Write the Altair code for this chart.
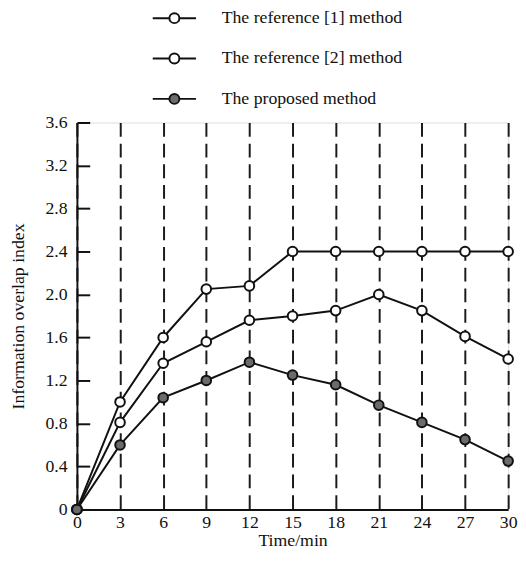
import altair as alt
import pandas as pd

time_min = [0, 3, 6, 9, 12, 15, 18, 21, 24, 27, 30]
ref1 = [0, 1.00, 1.60, 2.05, 2.08, 2.40, 2.40, 2.40, 2.40, 2.40, 2.40]
ref2 = [0, 0.81, 1.36, 1.56, 1.76, 1.80, 1.85, 2.00, 1.85, 1.61, 1.40]
proposed = [0, 0.60, 1.04, 1.20, 1.37, 1.25, 1.16, 0.97, 0.81, 0.65, 0.45]
series_names = ["The reference [1] method", "The reference [2] method", "The proposed method"]
series_fills = ["#ffffff", "#ffffff", "#6b6b6b"]
x_ticks = [0, 3, 6, 9, 12, 15, 18, 21, 24, 27, 30]
y_ticks = [0, 0.4, 0.8, 1.2, 1.6, 2.0, 2.4, 2.8, 3.2, 3.6]

rows = []
for name, vals in zip(series_names, [ref1, ref2, proposed]):
    for t, v in zip(time_min, vals):
        rows.append({"Time": t, "Value": v, "Series": name})
df = pd.DataFrame(rows)

FONT = "Liberation Serif"
FS = 18

x_scale = alt.Scale(domain=[0, 30], nice=False, zero=False)
y_scale = alt.Scale(domain=[0, 3.6], nice=False)

legend_path = ("M-1,0 L-0.23,0 M0.23,0 L1,0 "
               "M-0.23,0 A0.23,0.23 0 1,0 0.23,0 A0.23,0.23 0 1,0 -0.23,0 Z")

base = alt.Chart(df)

lines = base.mark_line(color="#111111", strokeWidth=2).encode(
    x=alt.X("Time:Q", scale=x_scale,
            axis=alt.Axis(values=x_ticks, title="Time/min", grid=True,
                          gridDash=[14, 7], gridColor="#1a1a1a", gridWidth=2, gridOpacity=1,
                          ticks=False, tickSize=0, labelPadding=4, labelFontSize=FS,
                          labelFlush=False, labelOverlap=False,
                          titleFontSize=FS, titleFontWeight="normal", titlePadding=1,
                          labelFont=FONT, titleFont=FONT,
                          labelColor="#111111", titleColor="#111111",
                          domainColor="#111111", domainWidth=2)),
    y=alt.Y("Value:Q", scale=y_scale,
            axis=alt.Axis(values=y_ticks, title="Information overlap index", grid=False,
                          ticks=False, tickSize=0, labelPadding=10, labelFontSize=FS,
                          labelFlush=False, labelOverlap=False,
                          labelExpr="datum.value == 0 ? '0' : format(datum.value, '.1f')",
                          titleFontSize=FS, titleFontWeight="normal", titlePadding=18,
                          labelFont=FONT, titleFont=FONT,
                          labelColor="#111111", titleColor="#111111",
                          domainColor="#111111", domainWidth=2)),
    detail="Series:N",
)

points = base.mark_point(shape="circle", filled=False, size=95, stroke="#111111",
                         strokeWidth=2, opacity=1).encode(
    x=alt.X("Time:Q", scale=x_scale),
    y=alt.Y("Value:Q", scale=y_scale, axis=None),
    fill=alt.Fill("Series:N",
                  scale=alt.Scale(domain=series_names, range=series_fills),
                  legend=alt.Legend(title=None, orient="none", legendX=76, legendY=-129,
                                    symbolType=legend_path, symbolSize=1936,
                                    symbolStrokeColor="#111111", symbolStrokeWidth=2,
                                    symbolFillColor="#ffffff",
                                    labelFont=FONT, labelFontSize=FS, labelColor="#111111",
                                    labelOffset=25, rowPadding=8, labelLimit=400)),
)

# inward ticks on the y axis: a right-oriented axis moved onto the left edge
inner_ticks = alt.Chart(pd.DataFrame({"v": y_ticks})).mark_point(opacity=0).encode(
    y=alt.Y("v:Q", scale=y_scale,
            axis=alt.Axis(orient="right", offset=-438, values=y_ticks, labels=False,
                          domain=False, title=None, grid=False, ticks=True, tickSize=13,
                          tickWidth=2, tickColor="#111111")),
)

chart = alt.layer(lines, points, inner_ticks).resolve_scale(y="independent").properties(
    width=438, height=393,
    autosize=alt.AutoSizeParams(type="none"),
    padding={"left": 70, "top": 112, "right": 10, "bottom": 44},
).configure_view(stroke="#111111", strokeWidth=2).configure(background="white")

chart.save("out.html", embed_options={"renderer": "svg", "actions": False})
